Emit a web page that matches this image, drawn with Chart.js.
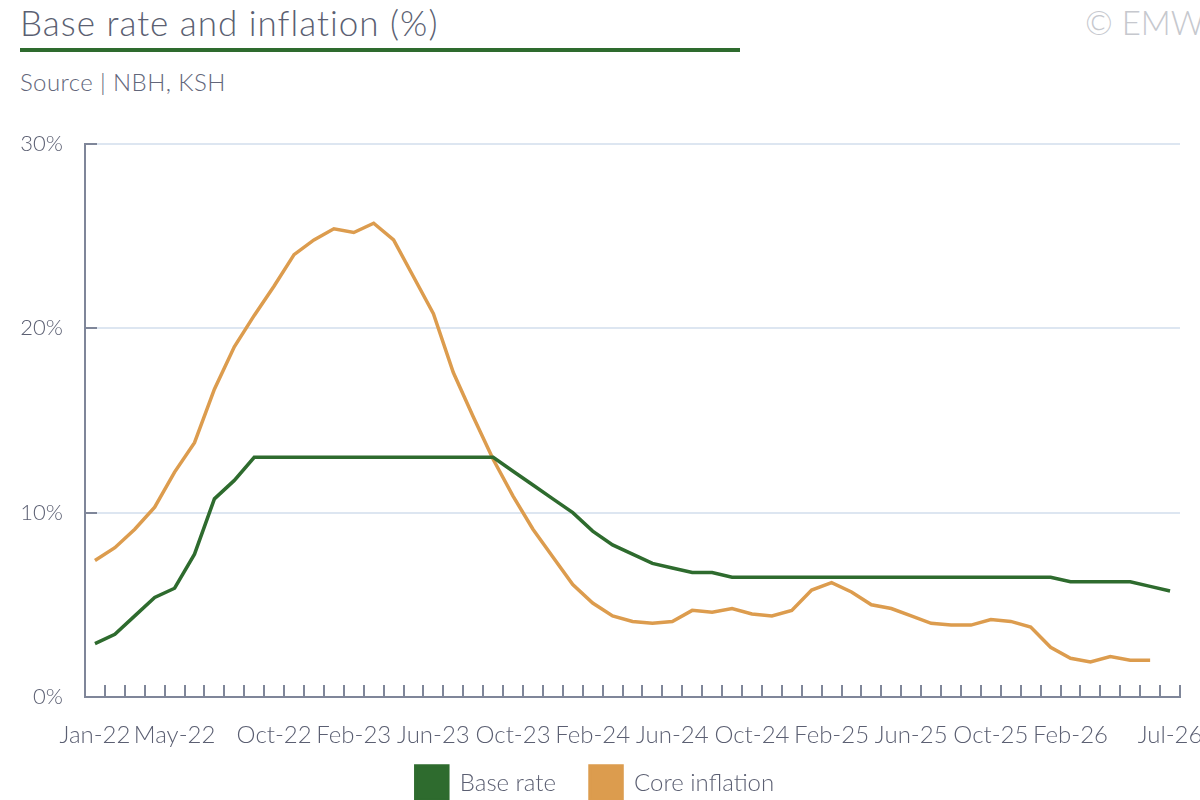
<!DOCTYPE html>
<html>
<head>
<meta charset="utf-8">
<script src="https://cdn.jsdelivr.net/npm/chart.js@4.4.1/dist/chart.umd.min.js"></script>
<style>
    html, body {
        margin: 0;
        padding: 0;
        width: 1200px;
        height: 800px;
        overflow: hidden;
        background: #ffffff;
        font-family: Lato, "Open Sans", sans-serif;
    }
    .h1__title {
        position: absolute;
        left: 20px;
        top: 1px;
        margin: 0;
        font-size: 35px;
        font-weight: 300;
        letter-spacing: 1px;
        line-height: 42px;
        color: #5b5f72;
        white-space: nowrap;
    }
    .div__title-bar {
        position: absolute;
        left: 20px;
        top: 48px;
        width: 720px;
        height: 4px;
        background: #2e6b2e;
    }
    .p__source {
        position: absolute;
        left: 20px;
        top: 67px;
        margin: 0;
        font-size: 24px;
        font-weight: 300;
        letter-spacing: 0.4px;
        line-height: 30px;
        color: #62667a;
        white-space: nowrap;
    }
    .span__copyright {
        position: absolute;
        left: 1085px;
        top: 1px;
        font-size: 33px;
        font-weight: 300;
        line-height: 42px;
        color: #c6c8ce;
        white-space: nowrap;
    }
    .div__chart {
        position: absolute;
        left: 0;
        top: 100px;
        width: 1200px;
        height: 735px;
    }
</style>
</head>
<body>
<h1 class="h1__title">Base rate and inflation (%)</h1>
<div class="div__title-bar"></div>
<p class="p__source">Source | NBH, KSH</p>
<span class="span__copyright">© EMW</span>
<div class="div__chart"><canvas id="ratePlot"></canvas></div>

<script>
const GREEN_COLOR = "#2e6b2e";
const ORANGE_COLOR = "#dc9c4e";
const AXIS_COLOR = "#7f8699";
const GRID_COLOR = "#dde6f1";
const TEXT_COLOR = "#5b5f72";
const LEGEND_SHIFT = 25;
const LEGEND_SHIFT_X = 5;

// monthly categories, Jan-22 .. Jul-26
const months = [
    "Jan-22", "Feb-22", "Mar-22", "Apr-22", "May-22", "Jun-22", "Jul-22", "Aug-22", "Sep-22", "Oct-22", "Nov-22", "Dec-22",
    "Jan-23", "Feb-23", "Mar-23", "Apr-23", "May-23", "Jun-23", "Jul-23", "Aug-23", "Sep-23", "Oct-23", "Nov-23", "Dec-23",
    "Jan-24", "Feb-24", "Mar-24", "Apr-24", "May-24", "Jun-24", "Jul-24", "Aug-24", "Sep-24", "Oct-24", "Nov-24", "Dec-24",
    "Jan-25", "Feb-25", "Mar-25", "Apr-25", "May-25", "Jun-25", "Jul-25", "Aug-25", "Sep-25", "Oct-25", "Nov-25", "Dec-25",
    "Jan-26", "Feb-26", "Mar-26", "Apr-26", "May-26", "Jun-26", "Jul-26"
];

// labels actually printed under the x axis
const shownLabels = [
    "Jan-22", "May-22", "Oct-22", "Feb-23", "Jun-23", "Oct-23", "Feb-24",
    "Jun-24", "Oct-24", "Feb-25", "Jun-25", "Oct-25", "Feb-26", "Jul-26"
];

const baseRate = [
    2.9, 3.4, 4.4, 5.4, 5.9, 7.75, 10.75, 11.75, 13, 13, 13, 13,
    13, 13, 13, 13, 13, 13, 13, 13, 13, 12.25, 11.5, 10.75,
    10, 9, 8.25, 7.75, 7.25, 7, 6.75, 6.75, 6.5, 6.5, 6.5, 6.5,
    6.5, 6.5, 6.5, 6.5, 6.5, 6.5, 6.5, 6.5, 6.5, 6.5, 6.5, 6.5,
    6.5, 6.25, 6.25, 6.25, 6.25, 6, 5.75
];

const coreInflation = [
    7.4, 8.1, 9.1, 10.3, 12.2, 13.8, 16.7, 19.0, 20.7, 22.3, 24.0, 24.8,
    25.4, 25.2, 25.7, 24.8, 22.8, 20.8, 17.6, 15.2, 12.9, 10.9, 9.1, 7.6,
    6.1, 5.1, 4.4, 4.1, 4.0, 4.1, 4.7, 4.6, 4.8, 4.5, 4.4, 4.7,
    5.8, 6.2, 5.7, 5.0, 4.8, 4.4, 4.0, 3.9, 3.9, 4.2, 4.1, 3.8,
    2.7, 2.1, 1.9, 2.2, 2.0, 2.0, null
];

const yTicks = [0, 10, 20, 30];

// small inward tick marks on both axes, placed from the scales
const axisTickMarks = {
    id: "axisTickMarks",
    beforeDatasetsDraw(chart) {
        let ctx = chart.ctx;
        let xScale = chart.scales.x;
        let yScale = chart.scales.y;
        let step = xScale.getPixelForValue(1) - xScale.getPixelForValue(0);
        ctx.save();
        ctx.strokeStyle = AXIS_COLOR;
        ctx.lineWidth = 2;
        ctx.beginPath();
        for (let i = 0; i < months.length; i++) {
            let x = Math.round(xScale.getPixelForValue(i) + step / 2);
            ctx.moveTo(x, yScale.bottom);
            ctx.lineTo(x, yScale.bottom - 12);
        }
        yTicks.forEach((v) => {
            if (v === 0) return;
            let y = Math.round(yScale.getPixelForValue(v));
            ctx.moveTo(xScale.left, y);
            ctx.lineTo(xScale.left + 12, y);
        });
        ctx.stroke();
        ctx.restore();
    },
};

// legend padding is wide for the gap between items, pull it back up closer to the axis labels
const legendNudge = {
    id: "legendNudge",
    afterLayout(chart) {
        chart.legend.top -= LEGEND_SHIFT;
        chart.legend.bottom -= LEGEND_SHIFT;
        chart.legend.left += LEGEND_SHIFT_X;
        chart.legend.right += LEGEND_SHIFT_X;
    },
};

const datae = {
    labels: months,
    datasets: [
        {
            label: "Base rate",
            data: baseRate,
            borderColor: GREEN_COLOR,
            backgroundColor: GREEN_COLOR,
            borderWidth: 3.5,
            pointRadius: 0,
            tension: 0,
        },
        {
            label: "Core inflation",
            data: coreInflation,
            borderColor: ORANGE_COLOR,
            backgroundColor: ORANGE_COLOR,
            borderWidth: 3.5,
            pointRadius: 0,
            tension: 0,
        },
    ],
};

const config = {
    type: "line",
    data: datae,
    plugins: [axisTickMarks, legendNudge],
    options: {
        responsive: true,
        maintainAspectRatio: false,
        animation: false,
        layout: {
            padding: { top: 44, right: 20, left: 0, bottom: 0 },
        },
        plugins: {
            legend: {
                position: "bottom",
                labels: {
                    boxWidth: 32,
                    boxHeight: 34,
                    padding: 34,
                    color: TEXT_COLOR,
                    font: { family: "Lato", size: 24, weight: "300" },
                },
            },
            tooltip: { enabled: false },
        },
        scales: {
            x: {
                offset: true,
                grid: { display: false, drawTicks: false },
                border: { display: true, color: AXIS_COLOR, width: 2 },
                ticks: {
                    autoSkip: false,
                    maxRotation: 0,
                    minRotation: 0,
                    padding: 24,
                    color: TEXT_COLOR,
                    font: { family: "Lato", size: 24, weight: "300" },
                    callback: function (value) {
                        let label = months[value];
                        return shownLabels.includes(label) ? label : "";
                    },
                },
                afterFit: function (scale) {
                    scale.paddingLeft = 0;
                    scale.paddingRight = 0;
                    scale.height = 60;
                },
            },
            y: {
                min: 0,
                max: 30,
                grid: { color: GRID_COLOR, lineWidth: 2, drawTicks: false },
                border: { display: true, color: AXIS_COLOR, width: 2 },
                afterBuildTicks: function (scale) {
                    scale.ticks = yTicks.map((v) => ({ value: v }));
                },
                ticks: {
                    padding: 22,
                    color: TEXT_COLOR,
                    font: { family: "Lato", size: 22, weight: "300" },
                    callback: function (value) {
                        return value + "%";
                    },
                },
                afterFit: function (scale) {
                    scale.width = 85;
                },
            },
        },
    },
};

let chart = new Chart(document.getElementById("ratePlot").getContext("2d"), config);
</script>
</body>
</html>
